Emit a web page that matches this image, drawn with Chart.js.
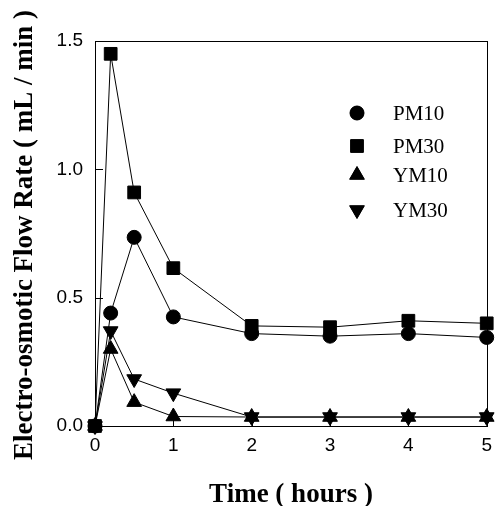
<!DOCTYPE html>
<html>
<head>
<meta charset="utf-8">
<script src="https://cdn.jsdelivr.net/npm/chart.js@4/dist/chart.umd.min.js"></script>
<style>
  html, body { margin: 0; padding: 0; background: #fff; }
  #wrap { width: 500px; height: 506px; }
</style>
</head>
<body>
<div id="wrap"><canvas id="grafico" width="500" height="506"></canvas></div>
<script>
// Datos
const tiempos = [0, 0.2, 0.5, 1, 2, 3, 4, 5];
const pm10 = [0, 0.44, 0.735, 0.425, 0.36, 0.35, 0.36, 0.345];
const pm30 = [0, 1.45, 0.91, 0.615, 0.39, 0.385, 0.41, 0.40];
const ym10 = [0, 0.30, 0.093, 0.037, 0.035, 0.035, 0.035, 0.035];
const ym30 = [0, 0.37, 0.183, 0.128, 0.035, 0.035, 0.035, 0.035];
const etiquetas = ['PM10', 'PM30', 'YM10', 'YM30'];
const ticksY = [0, 0.5, 1.0, 1.5];
const ticksX = [0, 1, 2, 3, 4, 5];

const SANS = "'Liberation Sans', Arial, sans-serif";
const SERIF = "'Liberation Serif', 'Times New Roman', serif";

function puntos(valores) {
  return tiempos.map((t, i) => ({ x: t, y: valores[i] }));
}

function serie(label, valores, estilo, radio, rotacion) {
  return {
    label: label,
    data: puntos(valores),
    borderColor: '#000',
    backgroundColor: '#000',
    borderWidth: 1,
    pointStyle: estilo,
    pointRadius: radio,
    pointRotation: rotacion || 0,
    pointBorderWidth: 1,
    pointBackgroundColor: '#000',
    pointBorderColor: '#000',
    tension: 0,
    clip: false
  };
}

// Marco, marcas hacia dentro, leyenda y títulos
const decoracion = {
  id: 'decoracion',
  afterDraw(chart) {
    const ctx = chart.ctx;
    const a = chart.chartArea;
    const sx = chart.scales.x;
    const sy = chart.scales.y;
    ctx.save();
    ctx.strokeStyle = '#000';
    ctx.lineWidth = 1;
    ctx.strokeRect(Math.round(a.left) + 0.5, Math.round(a.top) + 0.5,
      Math.round(a.right - a.left), Math.round(a.bottom - a.top));

    ctx.beginPath();
    ticksY.forEach(v => {
      const y = Math.round(sy.getPixelForValue(v)) + 0.5;
      ctx.moveTo(a.left, y);
      ctx.lineTo(a.left + 8, y);
    });
    ticksX.forEach(v => {
      const x = Math.round(sx.getPixelForValue(v)) + 0.5;
      ctx.moveTo(x, a.bottom);
      ctx.lineTo(x, a.bottom - 8);
    });
    ctx.stroke();

    // Leyenda
    const filas = [113, 146, 175, 210];
    chart.data.datasets.forEach((ds, i) => {
      ctx.fillStyle = '#000';
      ctx.strokeStyle = '#000';
      Chart.helpers.drawPoint(ctx, {
        pointStyle: ds.pointStyle,
        radius: ds.pointRadius,
        rotation: ds.pointRotation,
        borderWidth: 1
      }, 357, filas[i]);
      ctx.fill();
      ctx.font = '21px ' + SERIF;
      ctx.textAlign = 'left';
      ctx.textBaseline = 'middle';
      ctx.fillText(etiquetas[i], 393, filas[i] + 1);
    });

    // Títulos de ejes
    ctx.fillStyle = '#000';
    ctx.font = 'bold 27px ' + SERIF;
    ctx.textAlign = 'center';
    ctx.textBaseline = 'alphabetic';
    ctx.fillText('Time ( hours )', 291, 502);

    ctx.translate(25, 235);
    ctx.rotate(-Math.PI / 2);
    ctx.font = 'bold 27px ' + SERIF;
    ctx.textBaseline = 'middle';
    ctx.fillText('Electro-osmotic Flow Rate ( mL / min )', 0, 0);
    ctx.restore();
  }
};

new Chart(document.getElementById('grafico'), {
  type: 'line',
  data: {
    datasets: [
      serie('PM10', pm10, 'circle', 7),
      serie('PM30', pm30, 'rect', 9),
      serie('YM10', ym10, 'triangle', 8.5),
      serie('YM30', ym30, 'triangle', 8.5, 180)
    ]
  },
  options: {
    responsive: false,
    animation: false,
    events: [],
    layout: { padding: { top: 41, right: 11, left: 0, bottom: 0 } },
    plugins: {
      legend: { display: false },
      tooltip: { enabled: false }
    },
    scales: {
      x: {
        type: 'linear',
        min: 0,
        max: 5,
        afterFit: s => { s.height = 80; },
        grid: { display: false, drawTicks: false },
        border: { display: false },
        ticks: {
          stepSize: 1,
          padding: 8,
          color: '#000',
          font: { family: SANS, size: 19 }
        }
      },
      y: {
        type: 'linear',
        min: 0,
        max: 1.5,
        afterFit: s => { s.width = 95; },
        grid: { display: false, drawTicks: false },
        border: { display: false },
        ticks: {
          stepSize: 0.5,
          padding: 12,
          color: '#000',
          font: { family: SANS, size: 19 },
          callback: v => v.toFixed(1)
        }
      }
    }
  },
  plugins: [decoracion]
});
</script>
</body>
</html>
